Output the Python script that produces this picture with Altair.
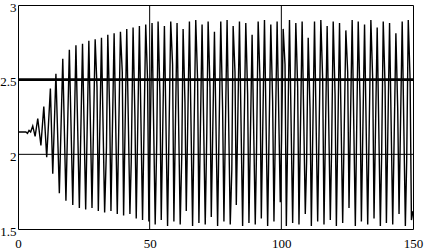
import altair as alt
import pandas as pd

# Turning points of the oscillating signal
start_x = [0.0, 3.0, 3.6, 4.2, 4.8]
start_y = [2.15, 2.15, 2.14, 2.16, 2.15]

peak_x = [5.6, 7.5, 9.8, 12.3, 14.4, 17.0, 19.5, 22.0, 24.5, 26.9, 29.3, 31.7, 34.1, 36.5,
          38.9, 41.3, 43.7, 46.1, 48.5, 50.9, 53.2, 55.6, 58.0, 60.4, 62.7, 65.1, 67.5, 69.9,
          72.2, 74.6, 77.0, 79.4, 81.7, 84.1, 86.5, 88.9, 91.2, 93.6, 96.0, 98.4, 100.7,
          103.1, 105.5, 107.9, 110.2, 112.6, 115.0, 117.4, 119.7, 122.1, 124.5, 126.9, 129.2,
          131.6, 134.0, 136.4, 138.7, 141.1, 143.5, 145.9, 148.2]
peak_y = [2.19, 2.24, 2.32, 2.44, 2.54, 2.64, 2.70, 2.73, 2.74, 2.76, 2.77, 2.78, 2.80, 2.81,
          2.82, 2.84, 2.85, 2.86, 2.87, 2.88, 2.89, 2.86, 2.89, 2.88, 2.84, 2.89, 2.90, 2.87,
          2.89, 2.82, 2.89, 2.90, 2.86, 2.89, 2.88, 2.80, 2.89, 2.90, 2.87, 2.89, 2.84,
          2.90, 2.88, 2.89, 2.78, 2.89, 2.90, 2.86, 2.89, 2.88, 2.83, 2.90, 2.89,
          2.87, 2.90, 2.85, 2.89, 2.88, 2.81, 2.89, 2.90]

trough_x = [6.5, 8.7, 10.9, 13.2, 15.7, 18.2, 20.8, 23.3, 25.7, 28.1, 30.5, 32.9, 35.3, 37.7,
            40.1, 42.5, 44.9, 47.3, 49.7, 52.1, 54.4, 56.8, 59.2, 61.6, 63.9, 66.3, 68.7,
            71.1, 73.4, 75.8, 78.2, 80.6, 82.9, 85.3, 87.7, 90.1, 92.4, 94.8, 97.2, 99.6,
            101.9, 104.3, 106.7, 109.1, 111.4, 113.8, 116.2, 118.6, 120.9, 123.3, 125.7,
            128.1, 130.4, 132.8, 135.2, 137.6, 139.9, 142.3, 144.7, 147.1, 149.4, 150.0]
trough_y = [2.12, 2.06, 1.98, 1.87, 1.74, 1.69, 1.66, 1.64, 1.63, 1.64, 1.62, 1.61, 1.62, 1.60,
            1.59, 1.60, 1.57, 1.56, 1.55, 1.53, 1.56, 1.52, 1.55, 1.53, 1.62, 1.52, 1.54,
            1.53, 1.58, 1.52, 1.55, 1.53, 1.66, 1.52, 1.54, 1.53, 1.57, 1.52, 1.55, 1.68,
            1.52, 1.54, 1.53, 1.60, 1.52, 1.55, 1.53, 1.56, 1.52, 1.54, 1.64,
            1.52, 1.55, 1.53, 1.57, 1.52, 1.54, 1.53, 1.60, 1.52, 1.56, 1.62]

# Shoulders (kinks) on falling and rising strokes
shoulder_x = [30.0, 34.8, 39.6, 44.4, 49.2, 53.9, 58.7, 63.4, 68.2, 72.9, 77.7, 82.4, 87.2,
              91.9, 96.7, 101.4, 106.2, 110.9, 115.7, 120.4, 125.2, 129.9, 134.7, 139.4,
              144.2, 148.9,
              33.6, 43.0, 52.7, 62.2, 71.7, 81.2, 90.6, 100.1, 109.6, 119.1, 128.6, 138.1, 147.6]
shoulder_y = [2.45, 2.30, 2.55, 2.25, 2.50, 2.40, 2.60, 2.35, 2.50, 2.45, 2.30, 2.55, 2.40,
              2.50, 2.35, 2.60, 2.45, 2.30, 2.50, 2.40, 2.55, 2.35, 2.50, 2.45,
              2.30, 2.50,
              2.05, 1.95, 2.10, 2.00, 2.15, 1.90, 2.05, 2.10, 1.95, 2.05, 2.15, 2.00, 1.95]

x_ticks = [0, 50, 100, 150]
y_ticks = [1.5, 2, 2.5, 3]
h_grid = [2.0]
v_grid = [50, 100]
threshold = [2.5]

df = pd.DataFrame({
    "t": start_x + peak_x + trough_x + shoulder_x,
    "v": start_y + peak_y + trough_y + shoulder_y,
}).sort_values("t").reset_index(drop=True)
df["order"] = range(len(df))

xs = alt.Scale(domain=[0, 150], nice=False, zero=False)
ys = alt.Scale(domain=[1.5, 3], nice=False, zero=False)

font = "Liberation Serif"

line = alt.Chart(df).mark_line(color="black", strokeWidth=1.4, clip=True).encode(
    x=alt.X("t:Q", scale=xs, title=None,
            axis=alt.Axis(values=x_ticks, labelExpr="'' + datum.value", grid=False,
                          domain=False, ticks=False,
                          labelFont=font, labelFontSize=13, labelColor="black",
                          labelPadding=8, labelFlush=False)),
    y=alt.Y("v:Q", scale=ys, title=None,
            axis=alt.Axis(values=y_ticks, labelExpr="'' + datum.value", grid=False,
                          domain=False, ticks=False,
                          labelFont=font, labelFontSize=13, labelColor="black",
                          labelPadding=2, labelOffset=2, labelFlush=False)),
    order="order:Q",
)

hgrid = alt.Chart(pd.DataFrame({"y": h_grid})).mark_rule(color="black", strokeWidth=1).encode(
    y=alt.Y("y:Q", scale=ys))
vgrid = alt.Chart(pd.DataFrame({"x": v_grid})).mark_rule(color="black", strokeWidth=1).encode(
    x=alt.X("x:Q", scale=xs))
thr = alt.Chart(pd.DataFrame({"y": threshold})).mark_rule(color="black", strokeWidth=2.6).encode(
    y=alt.Y("y:Q", scale=ys))

chart = alt.layer(line, hgrid, vgrid, thr).properties(
    width=395, height=224,
    padding={"left": 18, "top": 5, "right": 14, "bottom": 20},
    autosize="none",
    background="white",
).configure_view(stroke="black", strokeWidth=1).configure_axis(labelFont=font)

chart.save("out.html", embed_options={"renderer": "svg", "actions": False})
